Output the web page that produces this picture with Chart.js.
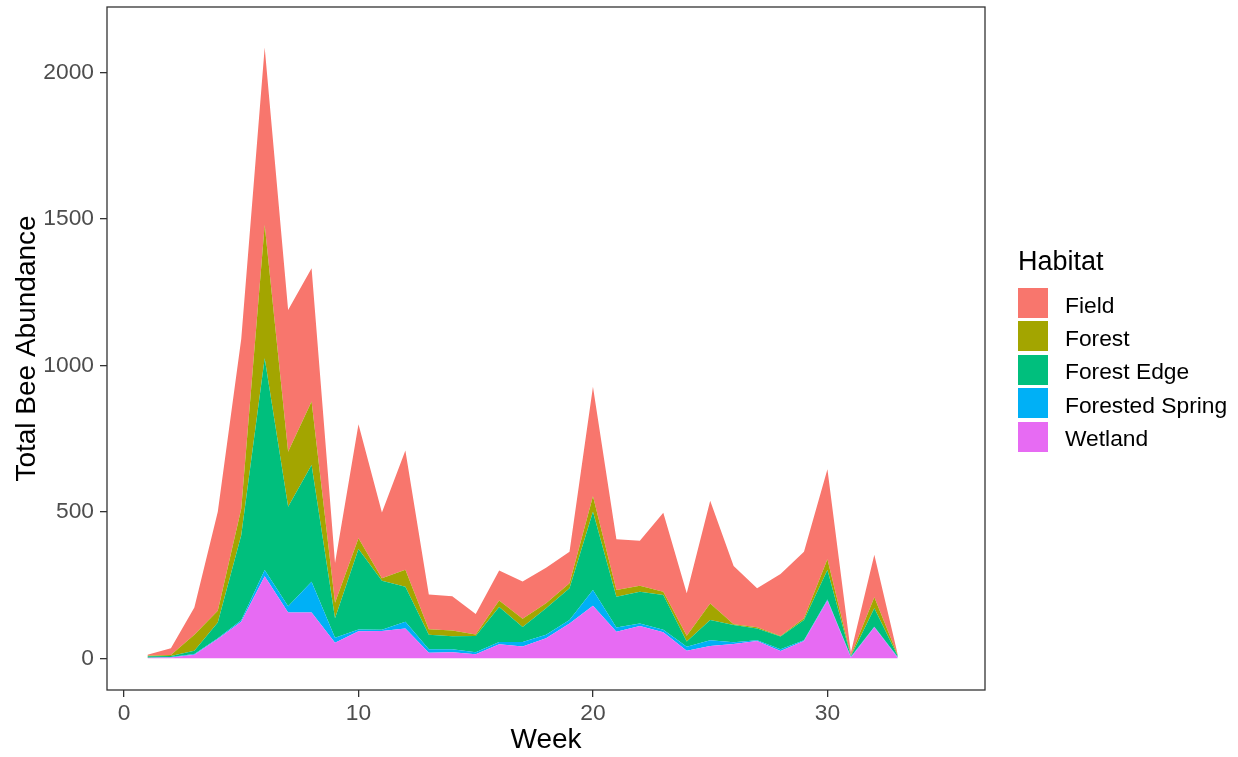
<!DOCTYPE html>
<html>
<head>
<meta charset="utf-8">
<script src="https://cdn.jsdelivr.net/npm/chart.js@4"></script>
<style>
  html, body { margin: 0; padding: 0; background: #fff; }
  #wrap { position: relative; width: 1238px; height: 757px; }
  #chart { position: absolute; left: 0; top: 0; }
  #legend { position: absolute; left: 1018px; top: 0; font-family: "Liberation Sans", Arial, sans-serif; color: #000; }
  #legend .title { position: absolute; left: 0; top: 248px; font-size: 27px; line-height: 27px; white-space: nowrap; }
  #legend .row { position: absolute; left: 0; height: 30px; display: flex; align-items: center; white-space: nowrap; }
  #legend .key { width: 30px; height: 30px; display: inline-block; }
  #legend .lab { margin-left: 17px; font-size: 22.8px; position: relative; top: 2px; }
</style>
</head>
<body>
<div id="wrap">
  <canvas id="chart" width="1238" height="757"></canvas>
  <div id="legend"></div>
</div>
<script>
// Weekly bee counts per habitat
const weeks = [1, 2, 3, 4, 5, 6, 7, 8, 9, 10, 11, 12, 13, 14, 15, 16, 17,
  18, 19, 20, 21, 22, 23, 24, 25, 26, 27, 28, 29, 30, 31, 32, 33];

const wetland = [2, 3, 12, 66, 125, 280, 156, 156, 53, 92, 93, 102, 19, 21, 14, 48, 40,
  68, 119, 179, 91, 110, 89, 26, 42, 49, 59, 25, 59, 197, 3, 106, 2];
const forestedSpring = [0, 1, 3, 2, 5, 21, 22, 105, 17, 6, 4, 23, 12, 10, 7, 8, 16,
  12, 12, 54, 14, 9, 8, 13, 20, 6, 3, 6, 3, 4, 2, 2, 2];
const forestEdge = [5, 4, 11, 54, 290, 723, 339, 399, 67, 275, 168, 119, 49, 44, 55, 119, 51,
  91, 108, 267, 105, 108, 119, 18, 69, 59, 40, 43, 69, 100, 2, 63, 4];
const forest = [2, 3, 54, 40, 90, 455, 188, 216, 53, 37, 8, 58, 19, 20, 5, 22, 28,
  17, 17, 53, 23, 21, 11, 20, 56, 2, 4, 2, 6, 37, 3, 37, 2];
const field = [3, 23, 93, 338, 580, 606, 484, 455, 135, 389, 225, 407, 119, 117, 70, 103, 127,
  121, 108, 374, 173, 153, 270, 145, 351, 199, 133, 212, 227, 307, 10, 145, 2];

const xTicks = [0, 10, 20, 30];
const yTicks = [0, 500, 1000, 1500, 2000];

// bottom of the stack first
const series = [
  { name: "Wetland", values: wetland, color: "#E76BF3" },
  { name: "Forested Spring", values: forestedSpring, color: "#00B0F6" },
  { name: "Forest Edge", values: forestEdge, color: "#00BF7D" },
  { name: "Forest", values: forest, color: "#A3A500" },
  { name: "Field", values: field, color: "#F8766D" }
];

const FONT = '"Liberation Sans", Arial, sans-serif';

// panel border like ggplot's theme
const panelBorder = {
  id: "panelBorder",
  afterDraw(chart) {
    const a = chart.chartArea;
    const ctx = chart.ctx;
    ctx.save();
    ctx.strokeStyle = "#333333";
    ctx.lineWidth = 1.3;
    ctx.strokeRect(a.left, a.top, a.right - a.left, a.bottom - a.top);
    ctx.restore();
  }
};

const ctx = document.getElementById("chart").getContext("2d");
new Chart(ctx, {
  type: "line",
  data: {
    labels: weeks,
    datasets: series.map(function(s, i) {
      return {
        label: s.name,
        data: s.values,
        backgroundColor: s.color,
        borderColor: s.color,
        borderWidth: 0,
        pointRadius: 0,
        tension: 0,
        fill: i === 0 ? "origin" : "-1"
      };
    })
  },
  options: {
    responsive: false,
    animation: false,
    layout: { padding: { top: 7, right: 253, left: 0, bottom: 0 } },
    plugins: {
      legend: { display: false },
      tooltip: { enabled: false }
    },
    scales: {
      x: {
        type: "linear",
        min: -0.725,
        max: 36.72,
        afterBuildTicks: function(scale) { scale.ticks = xTicks.map(v => ({ value: v })); },
        afterFit: function(scale) {
          scale.height = 67;
          scale.paddingLeft = 0;
          scale.paddingRight = 0;
        },
        ticks: { autoSkip: false, color: "#4D4D4D", padding: 3, font: { family: FONT, size: 22.8 } },
        grid: { drawOnChartArea: false, drawTicks: true, tickLength: 7, color: "#333333", lineWidth: 1.3 },
        border: { display: false },
        title: { display: true, text: "Week", color: "#000", font: { family: FONT, size: 28 }, padding: { top: 0, bottom: 0 } }
      },
      y: {
        stacked: true,
        min: -108.2,
        max: 2222.8,
        afterBuildTicks: function(scale) { scale.ticks = yTicks.map(v => ({ value: v })); },
        afterFit: function(scale) {
          scale.width = 107;
          scale.paddingTop = 0;
          scale.paddingBottom = 0;
        },
        ticks: { autoSkip: false, color: "#4D4D4D", padding: 6, font: { family: FONT, size: 22.8 },
          callback: function(v) { return String(v); } },
        grid: { drawOnChartArea: false, drawTicks: true, tickLength: 7, color: "#333333", lineWidth: 1.3 },
        border: { display: false },
        title: { display: true, text: "Total Bee Abundance", color: "#000", font: { family: FONT, size: 28 }, padding: { top: 10, bottom: 0 } }
      }
    }
  },
  plugins: [panelBorder]
});

// legend in ggplot order (top of stack first)
const legend = document.getElementById("legend");
const t = document.createElement("div");
t.className = "title";
t.textContent = "Habitat";
legend.appendChild(t);
series.slice().reverse().forEach(function(s, i) {
  const row = document.createElement("div");
  row.className = "row";
  row.style.top = (288 + i * 33.4) + "px";
  const key = document.createElement("span");
  key.className = "key";
  key.style.background = s.color;
  const lab = document.createElement("span");
  lab.className = "lab";
  lab.textContent = s.name;
  row.appendChild(key);
  row.appendChild(lab);
  legend.appendChild(row);
});
</script>
</body>
</html>
